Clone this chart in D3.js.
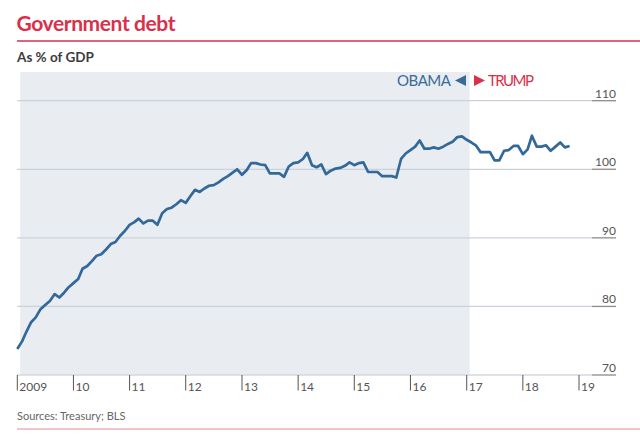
<!DOCTYPE html>
<html><head><meta charset="utf-8">
<script src="https://cdn.jsdelivr.net/npm/d3@7"></script>
<style>body{margin:0;background:#fff}svg{display:block;font-family:Lato,"Open Sans",sans-serif}</style>
</head><body><svg id="c" width="640" height="447"></svg>
<script>
const startMonth = "2009-01-01";
const debtValues = [73.8,74.9,76.3,77.7,78.4,79.6,80.2,80.8,81.8,81.3,82.0,82.8,
83.4,84.0,85.5,85.9,86.6,87.4,87.6,88.3,89.1,89.4,90.3,91.0,
91.9,92.3,92.8,92.1,92.5,92.5,91.9,93.6,94.2,94.4,94.9,95.5,
95.1,96.1,97.0,96.7,97.2,97.6,97.7,98.1,98.6,99.0,99.5,100.0,
99.2,99.9,100.9,100.9,100.7,100.6,99.4,99.4,99.4,98.9,100.4,100.9,
101.0,101.5,102.4,100.6,100.3,100.7,99.3,99.8,100.1,100.2,100.5,101.0,
100.6,100.9,101.0,99.6,99.6,99.6,99.0,99.0,99.0,98.8,101.5,102.3,
102.8,103.3,104.2,103.0,103.0,103.2,103.0,103.3,103.7,104.0,104.7,104.8,
104.3,103.9,103.5,102.5,102.5,102.5,101.3,101.3,102.7,102.8,103.4,103.4,
102.2,102.9,104.9,103.3,103.3,103.5,102.7,103.3,103.9,103.2,103.4];
const yTicks = [70,80,90,100,110];
const xTickYears = [2009,2010,2011,2012,2013,2014,2015,2016,2017,2018,2019];
const xTickLabels = ["2009","10","11","12","13","14","15","16","17","18","19"];
const obamaTerm = ["2009-01-20","2017-01-20"];

const parse = d3.utcParse("%Y-%m-%d");
const months = d3.utcMonth.range(parse(startMonth), d3.utcMonth.offset(parse(startMonth), debtValues.length));
const data = debtValues.map((v,i)=>({date:months[i], value:v}));

const svg = d3.select("#c");
const x = d3.scaleUtc().domain([new Date(Date.UTC(2009,0,1)), new Date(Date.UTC(2019,0,1))]).range([17.3, 579]);
const y = d3.scaleLinear().domain([70,110]).range([375,100.7]);

// title
svg.append("text").attr("x",16.5).attr("y",30.5).attr("fill","#d9304b")
  .attr("font-size",21).attr("font-weight",700).attr("textLength",159).text("Government debt");
svg.append("line").attr("x1",17).attr("x2",640).attr("y1",41).attr("y2",41)
  .attr("stroke","#d9304b").attr("stroke-width",1.4);
svg.append("text").attr("x",17).attr("y",62.3).attr("fill","#3b3b3b")
  .attr("font-size",13.5).attr("font-weight",700).text("As % of GDP");

// shaded Obama term
svg.append("rect").attr("x",x(parse(obamaTerm[0]))).attr("y",72)
  .attr("width",x(parse(obamaTerm[1]))-x(parse(obamaTerm[0]))).attr("height",375-72)
  .attr("fill","#e9edf1");

// gridlines
const g = svg.append("g");
yTicks.forEach(t=>{
  g.append("line").attr("x1",17.3).attr("x2",592).attr("y1",y(t)).attr("y2",y(t))
    .attr("stroke", t===70?"#d3d9df":"#c9d2db").attr("stroke-width",1.3);
  g.append("line").attr("x1",592).attr("x2",616).attr("y1",y(t)).attr("y2",y(t))
    .attr("stroke","#8c8c8c").attr("stroke-width",1.3);
  g.append("text").attr("x",616).attr("y",y(t)-3).attr("text-anchor","end")
    .attr("font-size",12).attr("fill","#555").text(t);
});

// x axis ticks
xTickYears.forEach((yr,i)=>{
  const xp = x(new Date(Date.UTC(yr,0,1)));
  svg.append("line").attr("x1",xp).attr("x2",xp).attr("y1",375).attr("y2",390.5)
    .attr("stroke","#555").attr("stroke-width",1);
  svg.append("text").attr("x",xp+2).attr("y",391).attr("font-size",12)
    .attr("fill","#555").text(xTickLabels[i]);
});

// line
svg.append("path").datum(data)
  .attr("d", d3.line().x(d=>x(d.date)).y(d=>y(d.value)))
  .attr("fill","none").attr("stroke","#33689b").attr("stroke-width",2.7)
  .attr("stroke-linejoin","round");

// labels
svg.append("text").attr("x",451).attr("y",86).attr("text-anchor","end")
  .attr("font-size",15).attr("fill","#3a6b98").attr("textLength",54).text("OBAMA");
svg.append("path").attr("d","M466,75 L466,86 L455,80.5 Z").attr("fill","#3a6b98");
svg.append("path").attr("d","M474,75 L474,86 L485,80.5 Z").attr("fill","#d9304b");
svg.append("text").attr("x",488).attr("y",86)
  .attr("font-size",15).attr("fill","#d9304b").attr("textLength",46).text("TRUMP");

// source
svg.append("text").attr("x",17).attr("y",420).attr("font-size",11)
  .attr("fill","#666").text("Sources: Treasury; BLS");
svg.append("line").attr("x1",17).attr("x2",640).attr("y1",429).attr("y2",429)
  .attr("stroke","#e08c98").attr("stroke-width",1);
</script></body></html>
